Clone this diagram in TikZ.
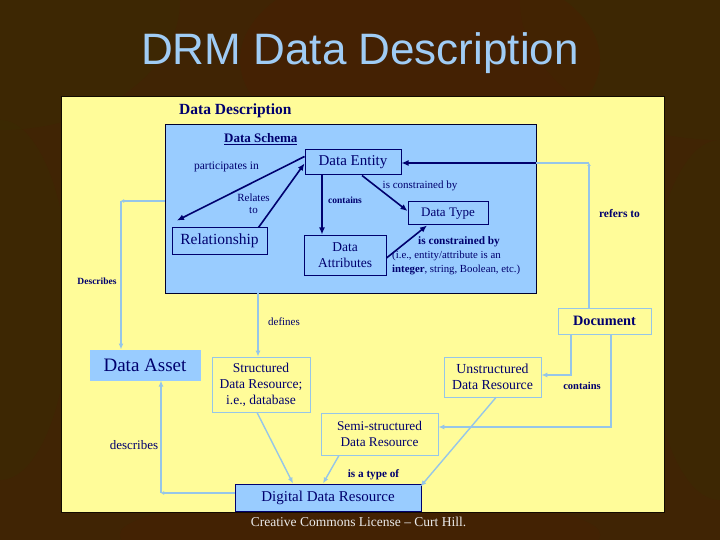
\documentclass[tikz,border=0pt]{standalone}
\usepackage{fontspec}
\setmainfont{Liberation Serif}
\newfontfamily\titlefont{Liberation Sans}
\usetikzlibrary{arrows.meta}
\definecolor{bgbrown}{RGB}{64,36,4}
\definecolor{bgolive}{RGB}{56,46,2}
\definecolor{bgred}{RGB}{76,30,2}
\definecolor{panelyellow}{RGB}{255,252,153}
\definecolor{schemablue}{RGB}{153,204,255}
\definecolor{navy}{RGB}{0,0,110}
\definecolor{lightline}{RGB}{150,198,232}
\definecolor{titleblue}{RGB}{160,204,245}
\definecolor{footgray}{RGB}{235,235,235}
\tikzset{
  fs/.style={font=\fontsize{#1}{#1}\selectfont},
  darkbox/.style={draw=navy, line width=1pt, fill=schemablue, inner sep=0pt, align=center, text=navy},
  lightbox/.style={draw=lightline, line width=0.8pt, fill=panelyellow, inner sep=0pt, align=center, text=navy},
  lbl/.style={text=navy, inner sep=0pt, align=center},
  navyarrow/.style={draw=navy, line width=1.6pt, -{Latex[length=7pt,width=6pt]}},
  lightarrow/.style={draw=lightline, line width=1.4pt, -{Latex[length=6pt,width=5pt]}},
  tinyarrow/.style={draw=lightline, line width=1.4pt, -{Latex[length=3pt,width=4pt]}},
  lightline/.style={draw=lightline, line width=1.4pt}
}
\begin{document}
\begin{tikzpicture}[x=1pt,y=-1pt]
\useasboundingbox (0,0) rectangle (720,540);
% background
\fill[bgbrown] (0,0) rectangle (720,540);
\fill[bgolive, opacity=0.35] (0,0) ellipse (180 and 130);
\fill[bgolive, opacity=0.3] (720,0) ellipse (200 and 140);
\fill[bgred, opacity=0.35] (420,60) ellipse (180 and 100);
\fill[bgolive, opacity=0.3] (0,300) ellipse (70 and 180);
\fill[bgolive, opacity=0.3] (720,320) ellipse (70 and 180);
\fill[bgred, opacity=0.3] (360,535) ellipse (240 and 40);
% title
\node[text=titleblue, font=\titlefont\fontsize{44}{50}\selectfont, inner sep=0pt] (title) at (360,53) {DRM Data Description};
% panel
\fill[panelyellow, draw=black!70!bgbrown, line width=0.8pt] (61,96) rectangle (664,512);
\node[lbl, anchor=west, font=\bfseries\fontsize{15.5}{18}\selectfont] (dd) at (179,111) {Data Description};
% schema
\node[darkbox, draw=black!60!navy, minimum width=371pt, minimum height=168pt] (schema) at (350.5,209) {};
\node[lbl, anchor=west, font=\bfseries\fontsize{13}{15}\selectfont] (ds) at (224,139) {\underline{Data Schema}};
\node[darkbox, fs=15, minimum width=96pt, minimum height=25pt] (entity) at (353,162.5) {Data Entity};
\node[darkbox, fs=13, minimum width=80pt, minimum height=23pt] (dtype) at (448,213.5) {Data Type};
\node[darkbox, fs=15.5, minimum width=95pt, minimum height=26pt] (rel) at (219.5,241) {Relationship};
\node[darkbox, font=\fontsize{13.5}{16}\selectfont, minimum width=82pt, minimum height=40pt] (attr) at (345,255) {Data\\Attributes};
% schema labels
\node[lbl, fs=11.5] (lpart) at (226.5,167) {participates in};
\node[lbl, font=\fontsize{11}{12}\selectfont] (lrel) at (253.5,204) {Relates\\to};
\node[lbl, font=\bfseries\fontsize{9.5}{11}\selectfont] (lcont) at (345,200) {contains};
\node[lbl, fs=11] (lcon1) at (420,186) {is constrained by};
\node[lbl, anchor=west, font=\bfseries\fontsize{11.3}{13}\selectfont] (lcon2) at (418,242) {is constrained by};
\node[lbl, anchor=west, fs=10.8] (lcon3) at (392,256) {(i.e., entity/attribute is an};
\node[lbl, anchor=west, fs=10.8] (lcon4) at (392,269.5) {\textbf{integer}, string, Boolean, etc.)};
% lower nodes
\node[lightbox, font=\bfseries\fontsize{14.3}{16}\selectfont, minimum width=93pt, minimum height=26pt] (doc) at (604.5,321) {Document};
\node[darkbox, draw=schemablue, fs=19, minimum width=110pt, minimum height=30pt] (asset) at (145,365) {Data Asset};
\node[lightbox, font=\fontsize{13.5}{16}\selectfont, minimum width=98pt, minimum height=55pt] (struct) at (261,384.5) {Structured\\Data Resource;\\i.e., database};
\node[lightbox, font=\fontsize{13.8}{15.5}\selectfont, minimum width=97pt, minimum height=40pt] (unstr) at (492.5,377) {Unstructured\\Data Resource};
\node[lightbox, font=\fontsize{13.3}{16}\selectfont, minimum width=117pt, minimum height=42pt] (semi) at (379.5,434) {Semi-structured\\Data Resource};
\node[darkbox, fs=15, minimum width=186pt, minimum height=27pt] (digital) at (328,497.5) {Digital Data Resource};
% lower labels
\node[lbl, font=\bfseries\fontsize{9.5}{11}\selectfont] (ldesc) at (97,281) {Describes};
\node[lbl, fs=11] (ldef) at (284,322) {defines};
\node[lbl, font=\bfseries\fontsize{11.5}{13}\selectfont] (lref) at (619.5,214) {refers to};
\node[lbl, font=\bfseries\fontsize{10.5}{12}\selectfont] (lcont2) at (582,386) {contains};
\node[lbl, fs=13] (ldescr) at (134,445) {describes};
\node[lbl, font=\bfseries\fontsize{11.2}{13}\selectfont] (ltype) at (373.5,475) {is a type of};
% footer
\node[text=footgray, fs=13.5, inner sep=0pt] (foot) at (358.5,522) {Creative Commons License -- Curt Hill.};
% schema connectors
\draw[navyarrow] ([yshift=6pt]entity.west) -- ([xshift=-42.5pt,yshift=7pt]rel.north);
\draw[navyarrow] ([xshift=-9pt]rel.north east) -- ([yshift=-1pt]entity.west);
\draw[navyarrow] ([xshift=-31pt]entity.south) -- ([xshift=-23pt]attr.north);
\draw[navyarrow] ([xshift=9pt]entity.south) -- ([yshift=2.5pt]dtype.west);
\draw[navyarrow] ([yshift=-3pt]attr.east) -- ([xshift=-21pt]dtype.south);
% refers to
\coordinate (c1) at (589,163);
\coordinate (c2) at (536,163);
\draw[tinyarrow] (c1 |- doc.north) -- (c1);
\draw[lightline] (c1) -- (c2);
\draw[navyarrow] (c2) -- (entity.east |- c2);
% Describes
\coordinate (c3) at (121,201);
\draw[tinyarrow] (c3 -| schema.west) -- (c3);
\draw[lightarrow] (c3) -- (c3 |- asset.north);
% defines
\coordinate (c7) at (258,293);
\draw[lightarrow] (c7) -- (c7 |- struct.north);
% contains
\coordinate (c4) at (571,375);
\draw[lightarrow] (c4 |- doc.south) -- (c4) -- (c4 -| unstr.east);
\coordinate (c5) at (611,427);
\draw[lightarrow] (c5 |- doc.south) -- (c5) -- (c5 -| semi.east);
% is a type of
\draw[lightarrow] ([xshift=-4pt]struct.south) -- ([xshift=-35pt]digital.north);
\draw[lightarrow] ([xshift=-40.5pt]semi.south) -- ([xshift=-5pt]digital.north);
\draw[lightarrow] ([xshift=3.5pt]unstr.south) -- ([xshift=-1pt,yshift=-3pt]digital.north east);
% describes
\coordinate (c6) at (161,493);
\draw[tinyarrow] (c6 -| digital.west) -- (c6);
\draw[lightarrow] (c6) -- (c6 |- asset.south);
\end{tikzpicture}
\end{document}
